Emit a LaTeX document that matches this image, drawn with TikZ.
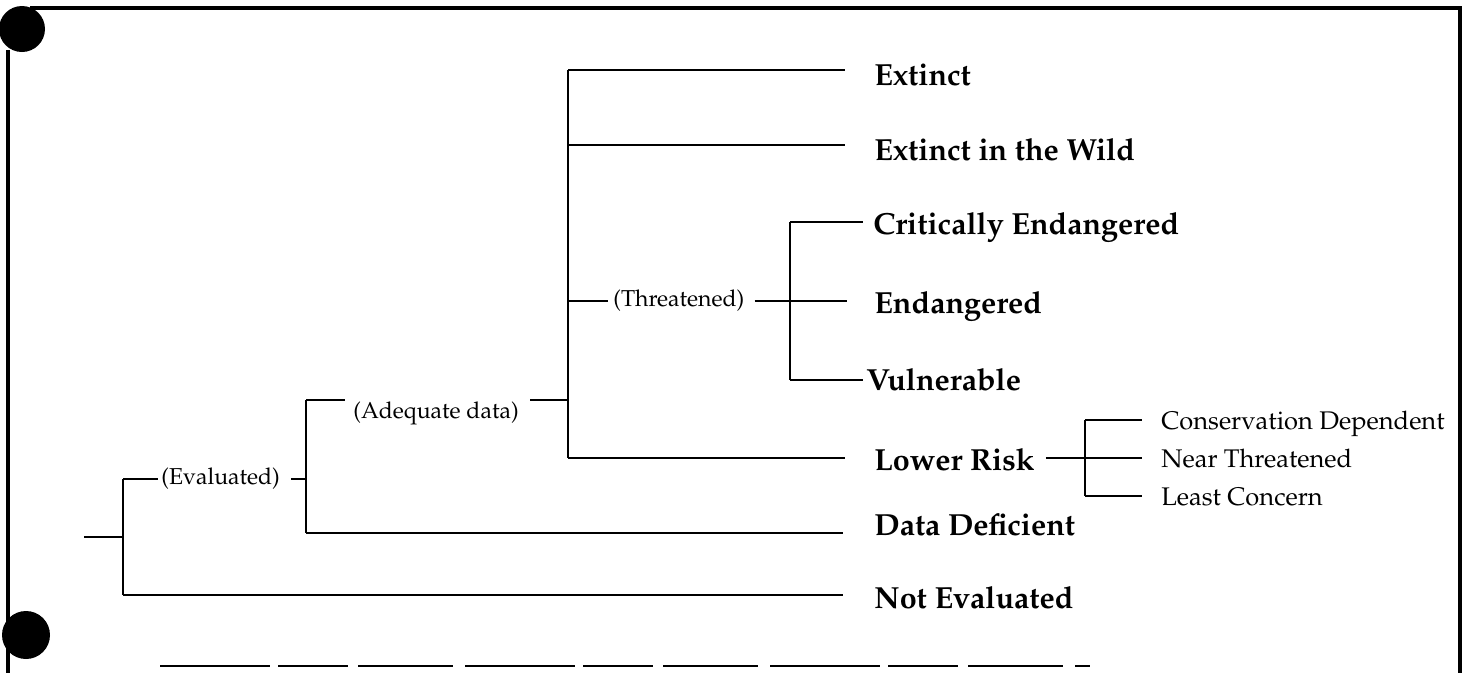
\documentclass[tikz,border=0pt]{standalone}
\usepackage[T1]{fontenc}
\renewcommand{\rmdefault}{ppl}
\usetikzlibrary{positioning}

\begin{document}
\begin{tikzpicture}[x=1pt,y=-1pt,line width=2.7pt]
    \useasboundingbox (0,0) rectangle (1469,673);

    % frame and punch holes %
    \draw[line width=3.5pt] (30,8) -- (1460,8) -- (1460,673);
    \draw[line width=3.5pt] (8,50) -- (8,673);
    \draw[line width=2pt,dash pattern=on 110pt off 8pt on 70pt off 10pt on 95pt off 12pt] (160,666) -- (1090,666);
    \fill (22,29) circle[radius=23pt];
    \fill (26,635) circle[radius=24pt];

    % junctions %
    \coordinate (rt) at (84,537);
    \coordinate (ra) at (123,479);
    \coordinate (rb) at (123,595);
    \coordinate (aa) at (306,400);
    \coordinate (ab) at (306,533);
    \coordinate (ba) at (568,70);
    \coordinate (b2) at (568,145);
    \coordinate (b3) at (568,301);
    \coordinate (bb) at (568,458);
    \coordinate (ta) at (790,222);
    \coordinate (tb) at (790,380);
    \coordinate (la) at (1085,420);
    \coordinate (lb) at (1085,496);

    \begin{scope}[every node/.style={anchor=base west,inner sep=0pt,font=\fontsize{30.5}{32}\selectfont\bfseries}]
        \node (ex) at (873,85) {Extinct};
        \node (ew) at (873,160) {Extinct in the Wild};
        \node (ce) at (872,234) {Critically Endangered};
        \node (en) at (873,313) {Endangered};
        \node (vu) at (865,390) {Vulnerable};
        \node (lr) at (873,470) {Lower Risk};
        \node (dd) at (873,535) {Data Deficient};
        \node (ne) at (873,608) {Not Evaluated};
    \end{scope}

    \begin{scope}[every node/.style={anchor=base west,inner sep=0pt,font=\fontsize{23}{25}\selectfont}]
        \node (ev) at (160,484) {(Evaluated)};
        \node (ad) at (352,418) {(Adequate data)};
        \node (th) at (612,306) {(Threatened)};
    \end{scope}

    \begin{scope}[every node/.style={anchor=base west,inner sep=0pt,font=\fontsize{25.5}{27}\selectfont}]
        \node (cd) at (1160,429) {Conservation Dependent};
        \node (nt) at (1160,467) {Near Threatened};
        \node (lc) at (1160,505) {Least Concern};
    \end{scope}

    % root %
    \draw (rt) -- (rt -| ra);
    \draw (ra) -- (rb);
    \draw[shorten >=2pt] (ra) -- (ra -| ev.west);
    \draw[shorten <=10pt] (ev.east |- ra) -- (aa |- ra);
    \draw[shorten >=30pt] (rb) -- (rb -| ne.west);

    % evaluated %
    \draw (aa) -- (ab);
    \draw[shorten >=7pt] (aa) -- (aa -| ad.west);
    \draw[shorten <=10pt] (ad.east |- aa) -- (ba |- aa);
    \draw[shorten >=30pt] (ab) -- (ab -| dd.west);

    % adequate data %
    \draw (ba) -- (bb);
    \draw[shorten >=28pt] (ba) -- (ba -| ex.west);
    \draw[shorten >=28pt] (b2) -- (b2 -| ew.west);
    \draw[shorten >=4pt] (b3) -- (b3 -| th.west);
    \draw[shorten >=28pt] (bb) -- (bb -| lr.west);

    % threatened %
    \draw (ta) -- (tb);
    \draw[shorten <=9pt,shorten >=26pt] (th.east |- b3) -- (b3 -| en.west);
    \draw[shorten >=9pt] (ta) -- (ta -| ce.west);
    \draw[shorten >=2pt] (tb) -- (tb -| vu.west);

    % lower risk %
    \draw[shorten <=10pt] (lr.east |- bb) -- (la |- bb);
    \draw (la) -- (lb);
    \draw[shorten >=18pt] (la) -- (la -| cd.west);
    \draw[shorten >=18pt] (la |- bb) -- (bb -| nt.west);
    \draw[shorten >=18pt] (lb) -- (lb -| lc.west);

\end{tikzpicture}
\end{document}
